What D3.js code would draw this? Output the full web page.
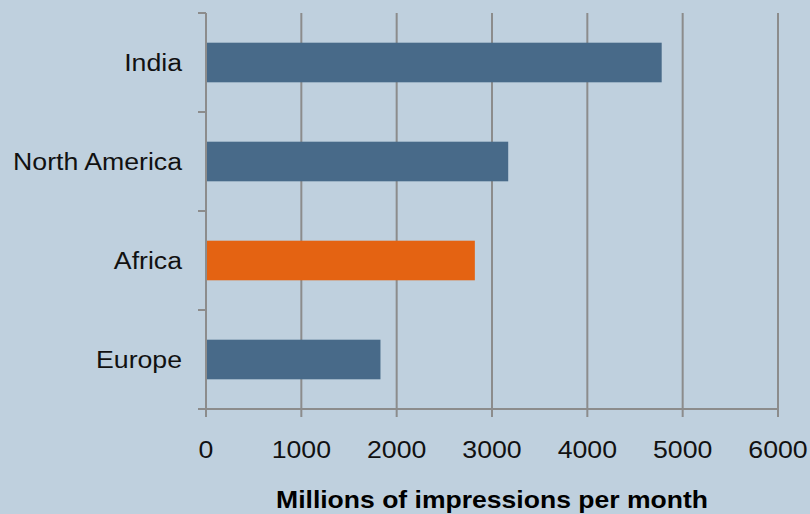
<!DOCTYPE html>
<html><head><meta charset="utf-8">
<script src="https://cdn.jsdelivr.net/npm/d3@7"></script>
<style>html,body{margin:0;padding:0;background:#BFD0DE;}svg{display:block;}</style>
</head><body>
<script>
const categories = ["India", "North America", "Africa", "Europe"];
const values = [4780, 3170, 2820, 1830];
const highlight = ["Africa"];
const xTicks = [0, 1000, 2000, 3000, 4000, 5000, 6000];
const xTitle = "Millions of impressions per month";

const W = 810, H = 514;
const m = {left: 206, right: 32, top: 13, bottom: 105};
const svg = d3.select("body").append("svg").attr("width", W).attr("height", H);
svg.append("rect").attr("width", W).attr("height", H).attr("fill", "#BFD0DE");

const x = d3.scaleLinear().domain([0, 6000]).range([m.left, W - m.right]);
const y = d3.scaleBand().domain(categories).range([m.top, H - m.bottom]).paddingInner(0.6).paddingOuter(0.3);
const grid = "#8C8C8C";
const font = "'Liberation Sans', Arial, sans-serif";
const sx = 1.16;

// gridlines
svg.append("g").selectAll("line").data(xTicks.slice(1)).join("line")
  .attr("x1", d => x(d)).attr("x2", d => x(d))
  .attr("y1", m.top).attr("y2", H - m.bottom)
  .attr("stroke", grid).attr("stroke-width", 2);

// bars
svg.append("g").selectAll("rect").data(categories).join("rect")
  .attr("x", x(0)).attr("y", d => y(d))
  .attr("width", (d, i) => x(values[i]) - x(0))
  .attr("height", y.bandwidth())
  .attr("fill", d => highlight.includes(d) ? "#E46312" : "#486A89");

// y axis line and ticks
const yBottom = H - m.bottom;
svg.append("line").attr("x1", x(0)).attr("x2", x(0)).attr("y1", m.top).attr("y2", yBottom)
  .attr("stroke", grid).attr("stroke-width", 2);
const yTickPos = d3.range(categories.length + 1).map(i => m.top + i * (yBottom - m.top) / categories.length);
svg.append("g").selectAll("line").data(yTickPos).join("line")
  .attr("x1", x(0) - 8).attr("x2", x(0)).attr("y1", d => d).attr("y2", d => d)
  .attr("stroke", grid).attr("stroke-width", 2);

// x axis
svg.append("line").attr("x1", x(0) - 8).attr("x2", x(6000)).attr("y1", yBottom).attr("y2", yBottom)
  .attr("stroke", grid).attr("stroke-width", 2);
svg.append("g").selectAll("line").data(xTicks).join("line")
  .attr("x1", d => x(d)).attr("x2", d => x(d)).attr("y1", yBottom).attr("y2", yBottom + 8)
  .attr("stroke", grid).attr("stroke-width", 2);

// labels
svg.append("g").selectAll("text").data(xTicks).join("text")
  .attr("transform", d => `translate(${x(d)},458) scale(${sx},1)`)
  .attr("text-anchor", "middle")
  .attr("font-family", font).attr("font-size", 23).attr("fill", "#111")
  .text(d => d);
svg.append("g").selectAll("text").data(categories).join("text")
  .attr("transform", d => `translate(${x(0) - 24},${y(d) + y.bandwidth() / 2 + 8}) scale(${sx},1)`)
  .attr("text-anchor", "end")
  .attr("font-family", font).attr("font-size", 23).attr("fill", "#111")
  .text(d => d);
const t = svg.append("text")
  .attr("text-anchor", "middle")
  .attr("font-family", font).attr("font-size", 23).attr("font-weight", "bold").attr("fill", "#000")
  .text(xTitle);
const tw = t.node().getComputedTextLength();
t.attr("transform", `translate(492,508) scale(${432 / tw},1)`);
</script>
</body></html>
